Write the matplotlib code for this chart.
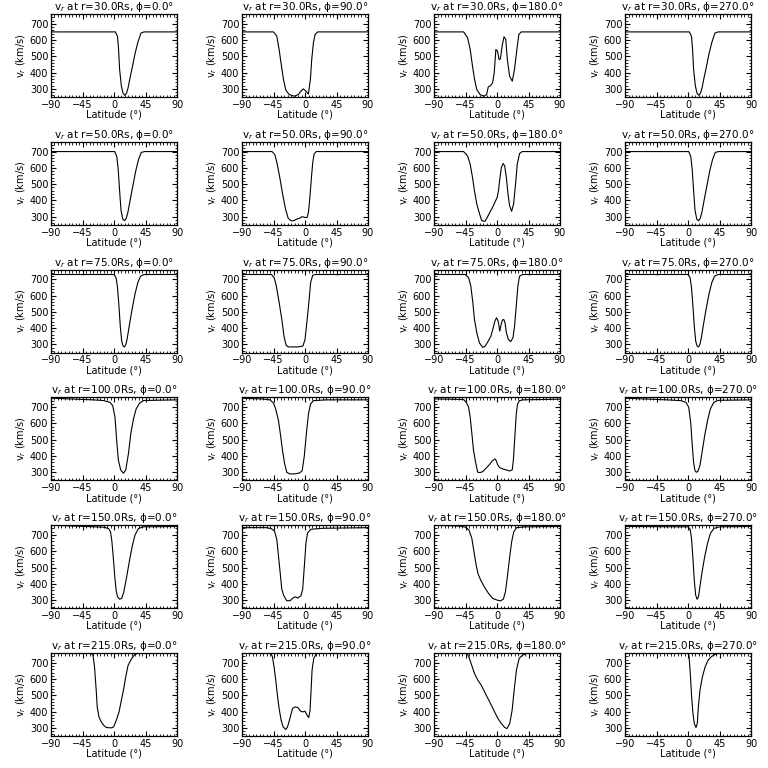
import matplotlib
matplotlib.use('Agg')
import matplotlib.pyplot as plt
from matplotlib.ticker import MultipleLocator

# radial distances (rows) and longitudes (columns)
radii = [30.0, 50.0, 75.0, 100.0, 150.0, 215.0]
phis = [0.0, 90.0, 180.0, 270.0]
lat_ticks = [-90, -45, 0, 45, 90]
v_ticks = [300, 400, 500, 600, 700]

# (latitude, v_r); values above the frame are clipped
r30_p0 = [(-90, 650), (2, 650), (5, 622), (6.5, 545), (8, 420), (10.5, 318), (13, 272), (15.5, 260),
          (18, 275), (20, 305), (23, 370), (26.5, 440), (30, 515), (34, 585), (38.5, 643), (43, 650), (90, 650)]
r30_p90 = [(-90, 650), (-45, 650), (-40.3, 624), (-37, 542), (-33.6, 440), (-30.7, 357), (-27.4, 292),
           (-22.6, 265), (-15.4, 255), (-9.6, 265), (-5.8, 286), (-2.4, 300), (1.4, 286), (4.8, 268),
           (7.7, 357), (9.6, 480), (12, 583), (14.4, 634), (18, 650), (90, 650)]
r30_p180 = [(-90, 650), (-47.7, 650), (-42, 614), (-38.3, 542), (-35, 440), (-32, 357), (-28.9, 296),
            (-24.2, 265), (-18.6, 255), (-14.8, 265), (-12.5, 312), (-9.2, 320), (-6.3, 337), (-4, 398),
            (-1.6, 542), (0.7, 532), (3, 480), (4.9, 485), (7.7, 573), (10, 620), (12.5, 604), (14.8, 480),
            (18, 378), (21.8, 347), (25, 419), (28.4, 542), (31.2, 634), (34.5, 650), (90, 650)]
r30_p270 = list(r30_p0)

r50_p0 = [(-90, 700), (1, 700), (4, 670), (6, 590), (8, 460), (10, 340), (12.5, 285), (15, 275), (17.5, 290),
          (20, 330), (23, 400), (27, 490), (31, 580), (35, 650), (39, 695), (44, 700), (90, 700)]
r50_p90 = [(-90, 700), (-47, 700), (-43, 680), (-40, 630), (-36, 540), (-32, 440), (-28, 350), (-24, 290),
           (-20, 275), (-16, 275), (-12, 285), (-8, 290), (-4, 300), (0, 295), (3, 295), (5, 330), (7, 420),
           (9, 530), (11, 630), (13, 685), (16, 700), (90, 700)]
r50_p180 = [(-90, 700), (-47.7, 700), (-42, 673), (-38.3, 622), (-35, 541), (-32.2, 459), (-28.9, 378),
            (-25.1, 320), (-21.9, 276), (-17.2, 271), (-13.9, 296), (-10.1, 327), (-6.3, 357), (-3, 388),
            (0.2, 418), (2.1, 459), (4, 531), (6.3, 602), (8.7, 627), (11, 612), (13.4, 541), (15.7, 439),
            (18, 367), (20.9, 333), (23.7, 378), (26.5, 500), (28.9, 622), (32.2, 688), (36, 700), (90, 700)]
r50_p270 = list(r50_p0)

r75_p0 = [(-90, 730), (0, 730), (3, 710), (5, 650), (7, 540), (9, 410), (11, 320), (13, 290), (15, 285),
          (17, 300), (19, 340), (22, 420), (26, 520), (30, 610), (34, 680), (38, 720), (43, 730), (90, 730)]
r75_p90 = [(-90, 730), (-48, 730), (-44, 710), (-41, 660), (-37, 560), (-33, 450), (-30, 350), (-27, 295),
           (-24, 285), (-10, 285), (-3, 290), (0, 330), (3, 450), (6, 580), (8, 680), (11, 725), (15, 730),
           (90, 730)]
r75_p180 = [(-90, 730), (-45.4, 730), (-40.6, 710), (-37.4, 659), (-34.5, 556), (-32.2, 454), (-28.9, 372),
            (-25.1, 310), (-20.4, 282), (-16.7, 290), (-12.5, 321), (-8.7, 351), (-5.4, 403), (-3, 444),
            (-0.7, 464), (1.6, 444), (4, 382), (5.9, 423), (7.8, 450), (9.6, 454), (11.5, 433), (13.4, 372),
            (16.2, 331), (19.5, 318), (22.8, 341), (25.1, 413), (27.5, 536), (29.8, 659), (32.2, 720),
            (36.9, 730), (90, 730)]
r75_p270 = list(r75_p0)

r100_p0 = [(-90, 755), (-30, 745), (-15.4, 741), (-5.8, 730), (-1.9, 710), (1.4, 639), (3.8, 497), (6.2, 375),
           (9.6, 314), (13.5, 294), (16.8, 314), (20.7, 416), (24, 538), (27.9, 629), (31.7, 690), (36.5, 724),
           (42.3, 741), (90, 745)]
r100_p90 = [(-90, 755), (-60, 750), (-50, 745), (-45, 725), (-42, 690), (-38, 620), (-35, 530), (-32, 430),
            (-29, 350), (-26, 300), (-22, 290), (-15, 290), (-8, 295), (-4, 310), (-1, 400), (2, 540), (5, 660),
            (8, 720), (12, 740), (30, 745), (90, 745)]
r100_p180 = [(-90, 751), (-47.7, 747), (-43.9, 730), (-40.6, 700), (-38.3, 639), (-35.9, 538), (-33.6, 436),
             (-30.3, 355), (-27.5, 300), (-24.2, 298), (-20.4, 304), (-17.2, 318), (-13.4, 335), (-10.1, 350),
             (-6.8, 370), (-3, 382), (-1, 371), (1, 345), (4, 328), (8.7, 320), (13.4, 314), (18, 308),
             (21.8, 315), (23.5, 380), (25.5, 520), (27.5, 660), (29.5, 720), (32.2, 740), (36.9, 745), (90, 749)]
r100_p270 = [(-90, 755), (-30, 745), (-10, 740), (-3, 730), (1, 700), (4, 600), (6, 470), (8, 360), (10, 310),
             (12, 300), (14, 305), (17, 340), (20, 420), (24, 530), (28, 620), (32, 690), (37, 730), (43, 742),
             (90, 745)]

r150_p0 = [(-90, 760), (-40, 752), (-15, 748), (-8, 740), (-5, 720), (-3, 660), (-1, 560), (1, 450), (3, 360),
           (5, 320), (8, 305), (11, 310), (14, 350), (18, 440), (22, 540), (26, 630), (30, 700), (35, 740),
           (42, 750), (90, 752)]
r150_p90 = [(-90, 745), (-55.5, 745), (-48.3, 739), (-43.6, 724), (-40.3, 673), (-37.9, 571), (-35.5, 469),
            (-33.2, 367), (-30.3, 327), (-26.1, 296), (-21.3, 296), (-17.5, 312), (-13.7, 320), (-10.4, 312),
            (-5.7, 327), (-3.3, 367), (-0.9, 510), (1.4, 653), (3.8, 714), (8.5, 735), (25, 741), (90, 745)]
r150_p180 = [(-90, 760), (-55, 755), (-45, 748), (-40, 730), (-36, 680), (-33, 600), (-30, 520), (-27, 460),
             (-23, 420), (-18, 380), (-12, 340), (-6, 310), (0, 300), (5, 295), (9, 305), (12, 350), (15, 450),
             (18, 560), (21, 660), (24, 720), (28, 745), (40, 750), (90, 752)]
r150_p270 = [(-90, 752), (0, 750), (3, 735), (5, 680), (7, 560), (9, 420), (11, 330), (13, 305), (15, 320),
             (17, 380), (20, 470), (24, 570), (28, 650), (32, 710), (37, 740), (45, 750), (90, 752)]

r215_p0 = [(-90, 780), (-50, 770), (-47, 760), (-33, 760), (-30, 745), (-27.8, 673), (-25.4, 531), (-24, 429),
           (-21.5, 367), (-18.2, 337), (-14.8, 316), (-11, 302), (-3.8, 300), (-0.5, 306), (3.3, 347),
           (7.2, 398), (10.5, 469), (13.9, 541), (16.7, 612), (20.1, 684), (24.9, 724), (29.7, 751),
           (34.4, 759), (44, 760), (47, 770), (90, 780)]
r215_p90 = [(-90, 780), (-63, 770), (-60, 760), (-49, 760), (-46.6, 737), (-44.2, 675), (-41.8, 593),
            (-39.4, 501), (-37, 419), (-34.1, 347), (-31.3, 306), (-27.4, 290), (-25, 306), (-21.6, 357),
            (-17.8, 419), (-13.9, 429), (-10.1, 425), (-6.7, 404), (-3.4, 398), (0, 402), (2.9, 378),
            (5.3, 363), (7.2, 408), (8.7, 532), (10.1, 655), (12.5, 727), (15.9, 753), (19.7, 760), (40, 760),
            (43, 770), (90, 780)]
r215_p180 = [(-90, 780), (-54, 770), (-51, 760), (-43, 760), (-40.3, 737), (-37, 696), (-32.2, 634),
             (-27.4, 593), (-22.6, 563), (-17.8, 522), (-13, 481), (-8.2, 440), (-3.4, 398), (1.4, 357),
             (6.2, 327), (11, 302), (14.4, 296), (18.2, 327), (21.6, 408), (24.5, 532), (27.8, 655),
             (31.7, 727), (36.5, 747), (42.2, 757), (47, 760), (64, 760), (67, 770), (90, 780)]
r215_p270 = [(-90, 780), (-45, 770), (-42, 760), (-23, 760), (-20, 770), (-2, 770), (0, 760), (1.4, 745),
             (3.3, 633), (5.2, 490), (7.1, 388), (9, 327), (11.4, 302), (13.3, 327), (14.8, 429), (17.1, 531),
             (20.5, 612), (24.3, 673), (29, 718), (33.8, 739), (38.6, 751), (43.3, 757), (46, 760), (48, 770),
             (90, 780)]

panels = [
    [r30_p0, r30_p90, r30_p180, r30_p270],
    [r50_p0, r50_p90, r50_p180, r50_p270],
    [r75_p0, r75_p90, r75_p180, r75_p270],
    [r100_p0, r100_p90, r100_p180, r100_p270],
    [r150_p0, r150_p90, r150_p180, r150_p270],
    [r215_p0, r215_p90, r215_p180, r215_p270],
]

fig = plt.figure(figsize=(7.68, 7.68), dpi=100)

col_left = [51, 242, 434, 625]
W = 768.0
for i, r in enumerate(radii):
    bottom = W - (97 + 127.8 * i)
    for j, phi in enumerate(phis):
        ax = fig.add_axes([col_left[j] / W, bottom / W, 126 / W, 83 / W])
        pts = panels[i][j]
        lat = [p[0] for p in pts]
        v = [p[1] for p in pts]
        ax.plot(lat, v, color='black', lw=0.8)
        ax.set_xlim(-90, 90)
        ax.set_ylim(250, 760)
        ax.set_xticks(lat_ticks)
        ax.set_yticks(v_ticks)
        ax.xaxis.set_minor_locator(MultipleLocator(5))
        ax.yaxis.set_minor_locator(MultipleLocator(20))
        ax.tick_params(which='both', direction='in', top=True, right=True, labelsize=7, pad=2)
        ax.tick_params(which='major', length=3.5, width=0.8)
        ax.tick_params(which='minor', length=1.8, width=0.6)
        for s in ax.spines.values():
            s.set_linewidth(0.9)
        ax.set_title('v$_r$ at r=%.1fRs, ϕ=%.1f°' % (r, phi), fontsize=7.5, pad=2)
        ax.set_xlabel('Latitude (°)', fontsize=7, labelpad=0)
        ax.set_ylabel('v$_r$ (km/s)', fontsize=7, labelpad=1)

fig.savefig('out.png', dpi=100, facecolor='white')
